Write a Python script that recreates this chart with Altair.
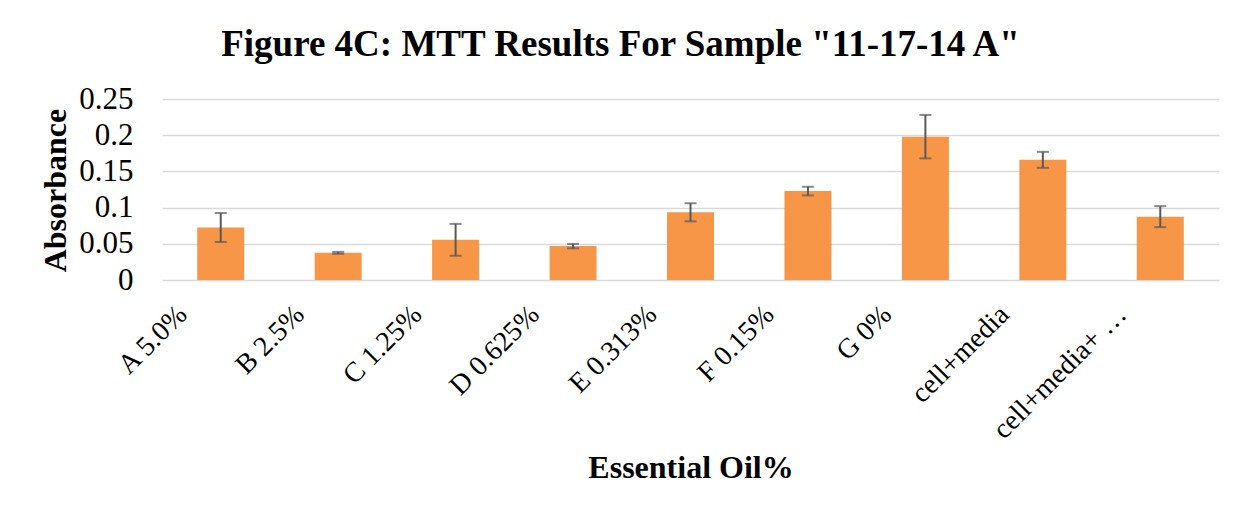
import altair as alt
import pandas as pd

categories = ["A 5.0%", "B 2.5%", "C 1.25%", "D 0.625%", "E 0.313%",
              "F 0.15%", "G 0%", "cell+media", "cell+media+ …"]
absorbance = [0.0725, 0.0375, 0.0555, 0.0468, 0.0935, 0.1228, 0.1980, 0.1660, 0.0875]
errors = [0.0200, 0.0013, 0.0220, 0.0030, 0.0125, 0.0060, 0.0300, 0.0110, 0.0145]
y_ticks = [0, 0.05, 0.1, 0.15, 0.2, 0.25]

df = pd.DataFrame({"cat": categories, "val": absorbance, "err": errors})

FONT = "Liberation Serif"

x_axis = alt.Axis(title="Essential Oil%", labelAngle=-45, labelAlign="right",
                  labelBaseline="middle", labelPadding=30, labelOffset=-38,
                  labelFontSize=28, labelFont=FONT, labelColor="#000000",
                  ticks=False, domain=False, labelLimit=400, labelOverlap=False,
                  titleFont=FONT, titleFontSize=32, titleFontWeight="bold",
                  titleColor="#000000", titleY=197, titleBaseline="alphabetic")

y_axis = alt.Axis(title="Absorbance", values=y_ticks, tickCount=6,
                  format=".2~f", labelFontSize=31, labelFont=FONT,
                  labelColor="#000000", labelPadding=29, ticks=False, domain=False,
                  labelOverlap=False,
                  grid=True, gridColor="#d9d9d9", gridWidth=1.5,
                  titleFont=FONT, titleFontSize=32, titleFontWeight="bold",
                  titleColor="#000000", titleX=-97, titleY=91,
                  titleAngle=-90, titleBaseline="alphabetic", titleAlign="center")

x = alt.X("cat:N", sort=categories,
          scale=alt.Scale(paddingInner=0.6, paddingOuter=0.3), axis=x_axis)
yscale = alt.Scale(domain=[0, 0.25], nice=False)

base = alt.Chart(df).encode(x=x).transform_calculate(
    lo="datum.val - datum.err", hi="datum.val + datum.err")

bars = base.mark_bar(color="#F79646").encode(
    y=alt.Y("val:Q", scale=yscale, axis=y_axis)
)

err_rule = base.mark_rule(color="#595959", strokeWidth=2).encode(
    y=alt.Y("lo:Q", scale=yscale, axis=y_axis), y2="hi:Q"
)

cap_lo = base.mark_tick(color="#595959", thickness=2, size=12, orient="horizontal").encode(
    y=alt.Y("lo:Q", scale=yscale, axis=y_axis)
)

cap_hi = base.mark_tick(color="#595959", thickness=2, size=12, orient="horizontal").encode(
    y=alt.Y("hi:Q", scale=yscale, axis=y_axis)
)

chart = alt.layer(bars, err_rule, cap_lo, cap_hi).properties(
    width=1057, height=181,
    title=alt.TitleParams('Figure 4C: MTT Results For Sample "11-17-14 A"',
                          font=FONT, fontSize=37, fontWeight="bold", color="#000000",
                          anchor="middle", baseline="alphabetic", offset=0, dx=-70, dy=10),
    autosize=alt.AutoSizeParams(type="none"),
    padding={"left": 154, "top": 91, "right": 16, "bottom": 220},
).configure(background="#ffffff").configure_view(strokeWidth=0)

chart.save("out.html", embed_options={"renderer": "svg", "actions": False})
